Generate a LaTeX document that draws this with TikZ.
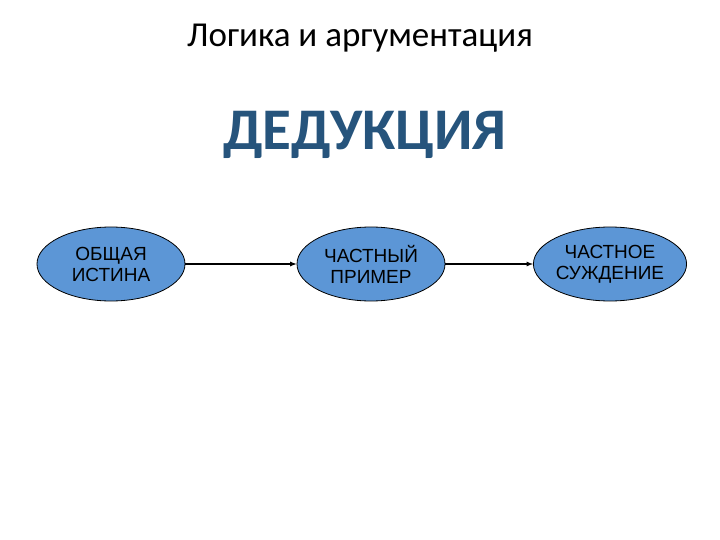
\documentclass[tikz,border=0pt]{standalone}
\usepackage{fontspec}
\setmainfont{Liberation Sans}
\newfontfamily\carl{Carlito}
\definecolor{ellfill}{RGB}{92,150,214}
\definecolor{titleblue}{RGB}{38,84,124}
\begin{document}
\begin{tikzpicture}[x=1pt,y=-1pt,
  ell/.style={ellipse,draw=black,line width=0.8pt,fill=ellfill,minimum width=148pt,minimum height=74pt,inner sep=0pt,align=center,font=\fontsize{19}{21}\selectfont},
  arr/.style={-latex,line width=1.2pt}]
\usetikzlibrary{shapes.geometric}
\useasboundingbox (0,0) rectangle (720,540);
\node (t) at (360,38) {\carl\fontsize{35}{38}\selectfont Логика и аргументация};
\node (d) at (365,135) {\carl\bfseries\color{titleblue}\fontsize{59}{62}\selectfont ДЕДУКЦИЯ};
\node[ell] (a) at (111,264) {ОБЩАЯ\\ИСТИНА};
\node[ell] (b) at (371,264) {ЧАСТНЫЙ\\ПРИМЕР};
\node[ell] (c) at (610,264) {ЧАСТНОЕ\\СУЖДЕНИЕ};
\draw[arr] (a) -- (b);
\draw[arr] (b) -- (c);
\end{tikzpicture}
\end{document}
